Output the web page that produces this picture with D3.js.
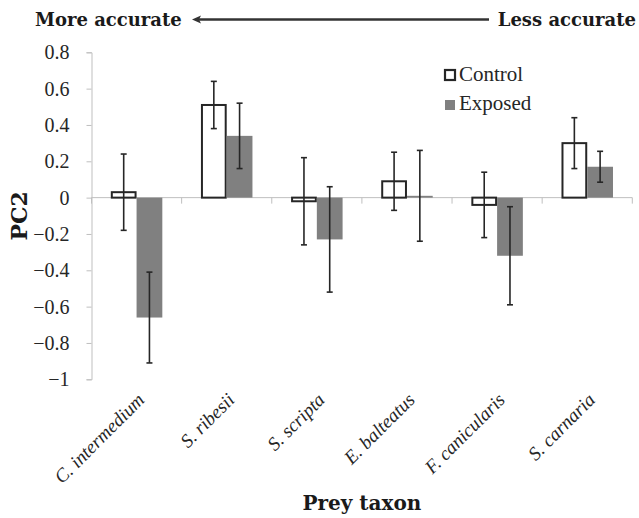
<!DOCTYPE html>
<html>
<head>
<meta charset="utf-8">
<script src="https://cdn.jsdelivr.net/npm/d3@7"></script>
<style>
  body { margin: 0; background: #fff; }
  svg { display: block; }
  .serif { font-family: "Liberation Serif", "Times New Roman", serif; }
  .bold { font-family: "DejaVu Serif", serif; font-weight: bold; }
</style>
</head>
<body>
<svg></svg>
<script>
const width = 639;
const height = 518;

// data
const taxa = ['C. intermedium', 'S. ribesii', 'S. scripta', 'E. balteatus', 'F. canicularis', 'S. carnaria'];
const groups = ['Control', 'Exposed'];
const controlMean = [0.03, 0.51, -0.02, 0.09, -0.04, 0.30];
const controlErr = [0.21, 0.13, 0.24, 0.16, 0.18, 0.14];
const exposedMean = [-0.66, 0.34, -0.23, 0.01, -0.32, 0.17];
const exposedErr = [0.25, 0.18, 0.29, 0.25, 0.27, 0.085];
const yTicks = [-1, -0.8, -0.6, -0.4, -0.2, 0, 0.2, 0.4, 0.6, 0.8];

const rows = [];
taxa.forEach((t, i) => {
    rows.push({taxon: t, group: 'Control', mean: controlMean[i], err: controlErr[i]});
    rows.push({taxon: t, group: 'Exposed', mean: exposedMean[i], err: exposedErr[i]});
});

const axisColor = '#bfbfbf';
const inkColor = '#262626';

const svg = d3.select('svg')
    .attr('width', width)
    .attr('height', height);

const x0 = d3.scaleBand().domain(taxa).range([91.5, 632.3]);
const x1 = d3.scaleBand().domain(groups).range([0, x0.bandwidth()]).paddingOuter(0.75);
const y = d3.scaleLinear().domain([-1, 0.8]).range([379.3, 52.3]);

// y axis
const yAxis = svg.append('g')
    .attr('transform', `translate(${x0.range()[0]},0)`)
    .call(d3.axisLeft(y).tickValues(yTicks).tickFormat(d3.format('~g')).tickSize(5).tickPadding(17));
yAxis.attr('font-family', null).attr('font-size', null);
yAxis.select('.domain').attr('stroke', axisColor);
yAxis.selectAll('.tick line').attr('stroke', axisColor);
yAxis.selectAll('.tick text')
    .attr('class', 'serif')
    .style('font-size', '20px')
    .attr('fill', inkColor);

// zero line with category ticks
const xAxis = svg.append('g')
    .attr('transform', `translate(0,${y(0)})`);
xAxis.append('line')
    .attr('x1', x0.range()[0]).attr('x2', x0.range()[1])
    .attr('stroke', axisColor);
xAxis.selectAll('line.cat')
    .data(taxa.concat(['end']))
    .enter().append('line')
    .attr('class', 'cat')
    .attr('x1', (d, i) => x0.range()[0] + i * x0.step())
    .attr('x2', (d, i) => x0.range()[0] + i * x0.step())
    .attr('y1', 0).attr('y2', 6)
    .attr('stroke', axisColor);

// bars
svg.selectAll('rect.bar')
    .data(rows)
    .enter().append('rect')
    .attr('class', 'bar')
    .attr('x', d => x0(d.taxon) + x1(d.group) + (d.group === 'Control' ? 1 : 0))
    .attr('width', d => x1.bandwidth() - (d.group === 'Control' ? 2 : 0))
    .attr('y', d => y(Math.max(0, d.mean)))
    .attr('height', d => Math.abs(y(d.mean) - y(0)))
    .attr('fill', d => d.group === 'Control' ? '#fff' : '#808080')
    .attr('stroke', d => d.group === 'Control' ? inkColor : 'none')
    .attr('stroke-width', 2);

// error bars
const err = svg.selectAll('g.err')
    .data(rows)
    .enter().append('g')
    .attr('class', 'err')
    .attr('transform', d => `translate(${x0(d.taxon) + x1(d.group) + x1.bandwidth() / 2},0)`)
    .attr('stroke', inkColor)
    .attr('stroke-width', 1.6);
err.append('line')
    .attr('y1', d => y(d.mean + d.err))
    .attr('y2', d => y(d.mean - d.err));
err.append('line')
    .attr('x1', -3).attr('x2', 3)
    .attr('y1', d => y(d.mean + d.err)).attr('y2', d => y(d.mean + d.err));
err.append('line')
    .attr('x1', -3).attr('x2', 3)
    .attr('y1', d => y(d.mean - d.err)).attr('y2', d => y(d.mean - d.err));

// category labels
svg.selectAll('text.cat')
    .data(taxa)
    .enter().append('text')
    .attr('class', 'serif')
    .attr('transform', d => `translate(${x0(d) + x0.bandwidth() / 2 + 9},401) rotate(-45)`)
    .attr('text-anchor', 'end')
    .style('font-style', 'italic')
    .style('font-size', '19px')
    .attr('fill', inkColor)
    .text(d => d);

// axis titles
svg.append('text')
    .attr('class', 'bold')
    .attr('transform', `translate(27,${(y(0.8) + y(-1)) / 2}) rotate(-90)`)
    .attr('text-anchor', 'middle')
    .style('font-size', '22px')
    .attr('fill', '#1a1a1a')
    .text('PC2');

svg.append('text')
    .attr('class', 'bold')
    .attr('x', (x0.range()[0] + x0.range()[1]) / 2)
    .attr('y', 510)
    .attr('text-anchor', 'middle')
    .style('font-size', '20px')
    .attr('fill', '#1a1a1a')
    .text('Prey taxon');

// accuracy arrow
svg.append('text')
    .attr('class', 'bold')
    .attr('x', 35).attr('y', 26)
    .style('font-size', '18px')
    .attr('fill', '#1a1a1a')
    .text('More accurate');
svg.append('text')
    .attr('class', 'bold')
    .attr('x', 636).attr('y', 26)
    .attr('text-anchor', 'end')
    .style('font-size', '18px')
    .attr('fill', '#1a1a1a')
    .text('Less accurate');
svg.append('line')
    .attr('x1', 196).attr('x2', 489)
    .attr('y1', 19.5).attr('y2', 19.5)
    .attr('stroke', '#333')
    .attr('stroke-width', 2.5);
svg.append('path')
    .attr('d', 'M192,19.5 L201,15.5 L199,19.5 L201,23.5 Z')
    .attr('fill', '#333');

// legend
const legend = svg.selectAll('g.legend')
    .data(groups)
    .enter().append('g')
    .attr('class', 'legend')
    .attr('transform', (d, i) => `translate(444,${69 + i * 29})`);
legend.append('rect')
    .attr('x', 1)
    .attr('y', d => d === 'Control' ? 1 : 2)
    .attr('width', 10)
    .attr('height', 10)
    .attr('fill', d => d === 'Control' ? '#fff' : '#808080')
    .attr('stroke', d => d === 'Control' ? inkColor : 'none')
    .attr('stroke-width', 2.2);
legend.append('text')
    .attr('class', 'serif')
    .attr('x', 15)
    .attr('y', 12)
    .style('font-size', '21px')
    .attr('fill', inkColor)
    .text(d => d);
</script>
</body>
</html>
